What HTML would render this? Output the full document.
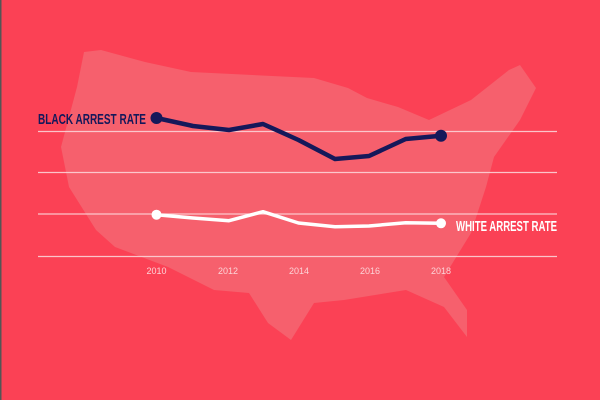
<!DOCTYPE html>
<html><head><style>
html,body{margin:0;padding:0;background:#fb4155;}
svg{display:block}
.lab{font-family:"Liberation Sans Narrow","Liberation Sans",sans-serif;font-weight:bold;font-size:15px;}
.yr{font-family:"Liberation Sans",sans-serif;font-size:9px;fill:#fcd3d7}
</style></head><body>
<svg width="600" height="400" viewBox="0 0 600 400">
<rect width="600" height="400" fill="#fb4155"/>
<rect x="0" y="0" width="1.5" height="400" fill="#555"/>
<polygon fill="#f6606d" points="84,52 101,50 145,62 191,72 314,78 348,88 367,98 398,107 429,120 471,100 509,70 520,65 536,88 520,120 494,157 486,187 471,233 444,277 467,310 467,337 444,307 406,290 344,300 314,303 291,340 268,323 249,293 214,290 168,267 115,247 96,230 69,187 61,147 77,87"/>
<g stroke="#fcd3d7" stroke-width="1.3" opacity="0.9">
<line x1="38" y1="131.5" x2="557" y2="131.5"/>
<line x1="38" y1="172.5" x2="557" y2="172.5"/>
<line x1="38" y1="214" x2="557" y2="214"/>
<line x1="38" y1="256.5" x2="557" y2="256.5"/>
</g>
<polyline fill="none" stroke="#15185a" stroke-width="4.5" stroke-linejoin="round" points="156.5,118 193,126 229,130 263,124 298.5,140 335,159 369,156 405.7,139 441,135.7"/>
<circle cx="156.5" cy="118" r="6" fill="#15185a"/>
<circle cx="441" cy="135.7" r="6" fill="#15185a"/>
<polyline fill="none" stroke="#ffffff" stroke-width="3.5" stroke-linejoin="round" points="156.5,214.7 193,218 229,220.7 263,211.7 298.5,223 335,226.7 369,226 405.7,222.7 441,223.3"/>
<circle cx="156.5" cy="214.7" r="5" fill="#fff"/>
<circle cx="441" cy="223.3" r="5" fill="#fff"/>
<text class="lab" x="38" y="124" fill="#15185a" textLength="108" lengthAdjust="spacingAndGlyphs">BLACK ARREST RATE</text>
<text class="lab" x="456" y="231" fill="#ffffff" textLength="101" lengthAdjust="spacingAndGlyphs">WHITE ARREST RATE</text>
<g class="yr" text-anchor="middle">
<text x="156.5" y="274">2010</text>
<text x="228" y="274">2012</text>
<text x="299" y="274">2014</text>
<text x="370" y="274">2016</text>
<text x="441" y="274">2018</text>
</g>
</svg>
</body></html>
